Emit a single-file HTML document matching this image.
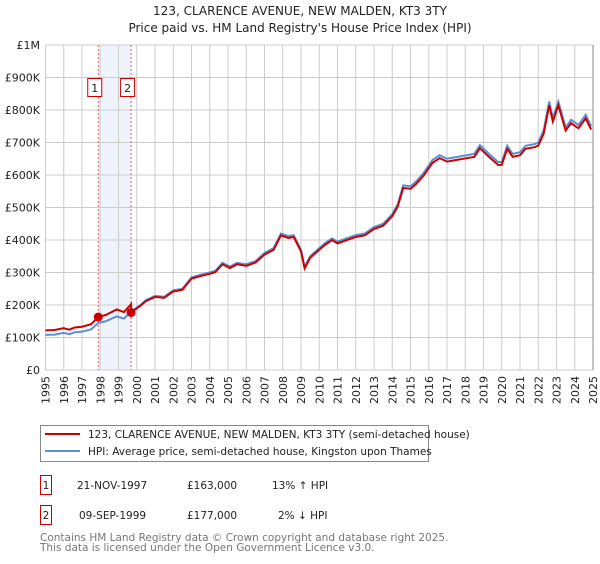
<!DOCTYPE html>
<html><head><meta charset="utf-8"><style>
body{margin:0;background:#fff;font-family:"DejaVu Sans","Liberation Sans",sans-serif;}
svg text{font-family:"DejaVu Sans","Liberation Sans",sans-serif;}
</style></head><body>
<svg id="c" width="600" height="560" xmlns="http://www.w3.org/2000/svg">
<text x="300" y="15" text-anchor="middle" font-size="12" fill="#222">123, CLARENCE AVENUE, NEW MALDEN, KT3 3TY</text>
<text x="300" y="32" text-anchor="middle" font-size="12" fill="#222">Price paid vs. HM Land Registry's House Price Index (HPI)</text>
<g id="grid"></g><g id="series"></g><g id="axes"></g>
<rect x="40.5" y="425.5" width="388" height="36" fill="#fff" stroke="#888"/>
<line x1="45" y1="434" x2="80" y2="434" stroke="#cc0000" stroke-width="2"/>
<text x="88" y="438" font-size="10.5" fill="#222">123, CLARENCE AVENUE, NEW MALDEN, KT3 3TY (semi-detached house)</text>
<line x1="45" y1="451" x2="80" y2="451" stroke="#5b8fd4" stroke-width="2"/>
<text x="88" y="455" font-size="10.5" fill="#222">HPI: Average price, semi-detached house, Kingston upon Thames</text>
<g font-size="10.5" fill="#222">
<rect x="40.5" y="475.5" width="11" height="19" fill="none" stroke="#cc0000"/>
<text x="46" y="489" text-anchor="middle">1</text>
<text x="77" y="489">21-NOV-1997</text>
<text x="187" y="489">£163,000</text>
<text x="272" y="489">13% ↑ HPI</text>
<rect x="40.5" y="505.5" width="11" height="19" fill="none" stroke="#cc0000"/>
<text x="46" y="519" text-anchor="middle">2</text>
<text x="79" y="519">09-SEP-1999</text>
<text x="187" y="519">£177,000</text>
<text x="278" y="519">2% ↓ HPI</text>
</g>
<text x="40" y="541" font-size="10.5" fill="#777">Contains HM Land Registry data © Crown copyright and database right 2025.</text>
<text x="40" y="551" font-size="10.5" fill="#777">This data is licensed under the Open Government Licence v3.0.</text>
</svg>
<script>
const years=[1995,1995.5,1996,1996.3,1996.6,1997,1997.5,1997.9,1998.3,1998.9,1999.3,1999.7,2000.2,2000.5,2001,2001.5,2002,2002.5,2003,2003.5,2004,2004.3,2004.7,2005.1,2005.5,2006,2006.5,2007,2007.5,2007.9,2008.3,2008.6,2009.0,2009.2,2009.5,2009.8,2010.3,2010.7,2011,2011.5,2012,2012.5,2013,2013.5,2014,2014.3,2014.6,2015,2015.3,2015.7,2016.2,2016.6,2017,2017.5,2018,2018.5,2018.8,2019.3,2019.8,2020.0,2020.3,2020.6,2021,2021.3,2021.8,2022,2022.3,2022.6,2022.8,2023.1,2023.5,2023.8,2024.2,2024.6,2024.9];
const hpi=[108,109,114,110,116,118,125,145,150,165,158,180,200,215,228,225,245,250,285,293,300,305,330,318,330,325,335,360,375,420,412,415,370,317,350,365,390,405,395,405,415,420,440,450,480,510,568,565,580,605,646,661,650,655,660,665,692,665,640,640,690,665,670,690,695,700,738,826,775,826,747,770,754,785,750];
const sales=[{t:1997.89,v:163,label:"1"},{t:1999.69,v:177,label:"2"}];
const yTicks=[0,100,200,300,400,500,600,700,800,900,1000];
const yTickLabels=["£0","£100K","£200K","£300K","£400K","£500K","£600K","£700K","£800K","£900K","£1M"];
const xTicks=[1995,1996,1997,1998,1999,2000,2001,2002,2003,2004,2005,2006,2007,2008,2009,2010,2011,2012,2013,2014,2015,2016,2017,2018,2019,2020,2021,2022,2023,2024,2025];
const X0=45.5,X1=593,Y0=370,Y1=45;
const x=t=>X0+(t-1995)/30*(X1-X0);
const y=v=>Y0-v/1000*(Y0-Y1);
const NS="http://www.w3.org/2000/svg";
function mk(tag,at,parent){const e=document.createElementNS(NS,tag);for(const k in at)e.setAttribute(k,at[k]);parent.appendChild(e);return e;}
const G=document.getElementById('grid'),S=document.getElementById('series'),A=document.getElementById('axes');
function hpiAt(t){for(let i=0;i<years.length-1;i++){if(t>=years[i]&&t<=years[i+1]){const f=(t-years[i])/(years[i+1]-years[i]);return hpi[i]+f*(hpi[i+1]-hpi[i]);}}return hpi[hpi.length-1];}
let band=mk('rect',{x:x(sales[0].t),y:Y1,width:x(sales[1].t)-x(sales[0].t),height:Y0-Y1,fill:'#eef3fc'},G);


yTicks.forEach((v,i)=>{
 let l=mk('line',{x1:X0,x2:X1,y1:y(v),y2:y(v),stroke:'#ccc'},G);
 
 
 let tx=mk('text',{x:40,y:y(v)+4,'text-anchor':'end','font-size':'11',fill:'#222'},A);
 tx.textContent=yTickLabels[i];
 
 
});
xTicks.forEach(t=>{
 let l=mk('line',{x1:x(t),x2:x(t),y1:Y1,y2:Y0,stroke:'#ccc'},G);
 
 
 let tx=mk('text',{x:0,y:0,'text-anchor':'end','font-size':'11',fill:'#222',transform:`translate(${x(t)+4},${Y0+6}) rotate(-90)`},A);
 tx.textContent=t;
 
 
});
sales.forEach(s=>{
 let l=mk('line',{x1:x(s.t),x2:x(s.t),y1:Y1,y2:Y0,stroke:'#e06060','stroke-dasharray':'2,2'},G);
 
 
 let r=mk('rect',{x:x(s.t)-10.5,y:78.5,width:14,height:18,fill:'#fff',stroke:'#cc0000'},A);
 
 
 let tx=mk('text',{x:x(s.t)-3.5,y:92,'text-anchor':'middle','font-size':'11',fill:'#222'},A);
 tx.textContent=s.label;
 
 
});
let hp=mk('polyline',{points:years.map((t,i)=>x(t)+','+y(hpi[i])).join(' '),fill:'none',stroke:'#5b8fd4','stroke-width':2},S);


const r1=sales[0].v/hpiAt(sales[0].t),r2=sales[1].v/hpiAt(sales[1].t);
const pts=[];
years.forEach((t,i)=>{const r=t<sales[1].t?r1:r2;pts.push(x(t)+','+y(hpi[i]*r));if(i<years.length-1&&t<sales[1].t&&years[i+1]>sales[1].t){pts.push(x(sales[1].t)+','+y(hpiAt(sales[1].t)*r1));pts.push(x(sales[1].t)+','+y(sales[1].v));}});
let pp=mk('polyline',{points:pts.join(' '),fill:'none',stroke:'#cc0000','stroke-width':2},S);


sales.forEach(s=>{
 let c=mk('circle',{cx:x(s.t),cy:y(s.v),r:4.5,fill:'#cc0000'},S);
 
 
});
mk('line',{x1:X1,x2:X1,y1:Y1,y2:Y0,stroke:'#888'},A);
</script>
</body></html>
